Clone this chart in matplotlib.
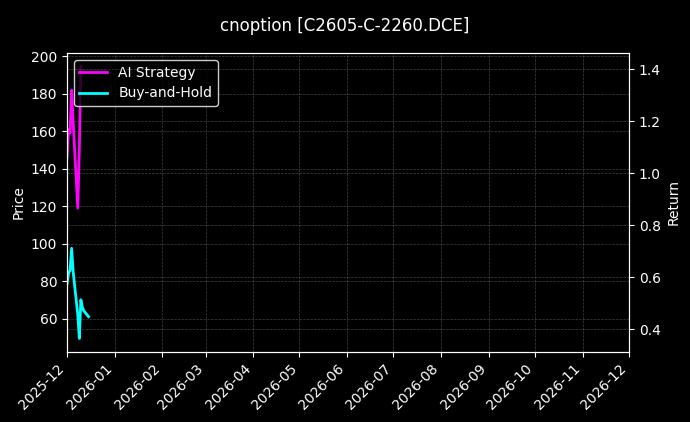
import matplotlib
matplotlib.use("Agg")
import matplotlib.pyplot as plt
import matplotlib.dates as mdates
import pandas as pd

plt.style.use("dark_background")

title = "cnoption [C2605-C-2260.DCE]"

ai_dates = ["2025-12-01", "2025-12-02", "2025-12-03", "2025-12-04", "2025-12-05",
            "2025-12-08", "2025-12-09", "2025-12-10"]
ai_values = [146, 161, 159, 182, 165, 119, 150, 194.5]

bh_dates = ["2025-12-01", "2025-12-02", "2025-12-03", "2025-12-04", "2025-12-05",
            "2025-12-08", "2025-12-09", "2025-12-10", "2025-12-11", "2025-12-12",
            "2025-12-15"]
bh_values = [78.5, 84, 86, 97.5, 85, 62, 49.4, 70, 66, 64, 61]

return_limits = [0.3115, 1.4627]
x_limits = ["2025-12-01", "2026-12-01"]

fig = plt.figure(figsize=(6.9, 4.22), dpi=100)
ax = fig.add_axes([0.0971, 0.1659, 0.9116 - 0.0971, 0.8744 - 0.1659])
ax2 = ax.twinx()

ax.plot(pd.to_datetime(ai_dates), ai_values, color="#ff00ff", lw=2, label="AI Strategy")
ax.plot(pd.to_datetime(bh_dates), bh_values, color="#00ffff", lw=2, label="Buy-and-Hold")

ax.set_xlim(pd.to_datetime(x_limits[0]), pd.to_datetime(x_limits[1]))
ax2.set_ylim(*return_limits)

ax.xaxis.set_major_locator(mdates.MonthLocator())
ax.xaxis.set_major_formatter(mdates.DateFormatter("%Y-%m"))
plt.setp(ax.get_xticklabels(), rotation=45, ha="right")

ax.set_ylabel("Price")
ax2.set_ylabel("Return")

ax.grid(True, linestyle="--", color="gray", alpha=0.5, lw=0.5)
ax2.grid(True, linestyle="--", color="gray", alpha=0.5, lw=0.5)

leg = ax.legend(loc="upper left", facecolor="black", edgecolor="white")

fig.suptitle(title, fontsize=12, y=0.96)

fig.savefig("out.png", dpi=100, facecolor="black")
